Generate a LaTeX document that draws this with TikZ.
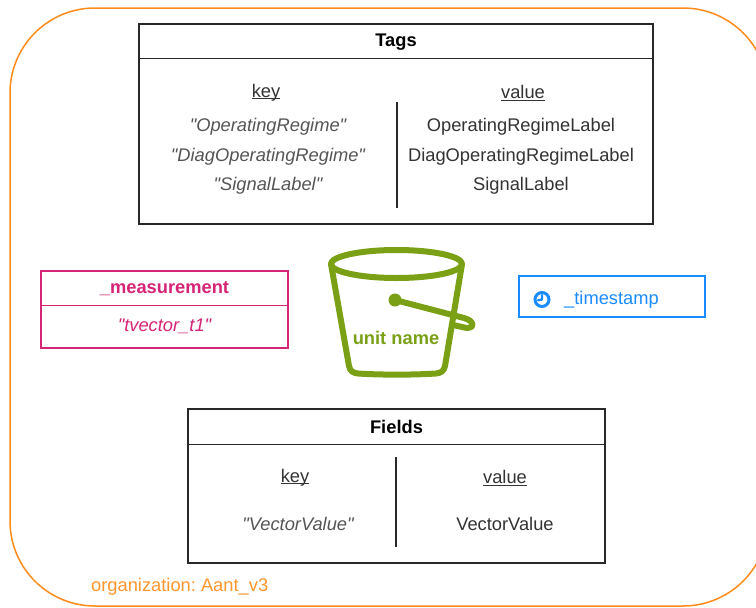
\documentclass[tikz,border=0pt]{standalone}
\usepackage{fontspec}
\setmainfont{Liberation Sans}
\newfontfamily\qfont{Liberation Sans}
\definecolor{orng}{RGB}{255,140,26}
\definecolor{orgtxt}{RGB}{255,150,45}
\definecolor{pinkc}{RGB}{214,36,118}
\definecolor{bluec}{RGB}{26,140,255}
\definecolor{grn}{RGB}{122,161,22}
\definecolor{keyc}{RGB}{85,85,85}
\definecolor{valc}{RGB}{51,51,51}
\definecolor{boxc}{RGB}{40,40,40}
\newcommand\myul[1]{\setbox0\hbox{#1}\rlap{\rule[-1.6pt]{\wd0}{0.9pt}}\box0}
\frenchspacing
\begin{document}
\begin{tikzpicture}[x=1pt,y=-1pt,
  every node/.style={font=\qfont\fontsize{18.3}{22}\selectfont, inner sep=0pt},
  tbox/.style={draw=boxc, line width=1.3pt, inner sep=0pt},
  head/.style={font=\qfont\fontsize{18.3}{22}\selectfont\bfseries, text=black},
  keyt/.style={font=\qfont\fontsize{18.3}{22}\selectfont\itshape, text=keyc},
  valt/.style={text=valc},
  colt/.style={text=valc}]
\clip (0,0) rectangle (756,608);
\fill[white] (0,0) rectangle (756,608);
\draw[orng, line width=1.5pt, rounded corners=85pt] (10,8) rectangle (768,606);

% Tags
\node[tbox, minimum width=514pt, minimum height=200pt] (tags) at (396,124) {};
\draw[boxc, line width=1.3pt] ([yshift=-35pt]tags.north west) -- ([yshift=-35pt]tags.north east);
\coordinate (tdt) at (397,102);
\coordinate (tdb) at (397,208);
\draw[boxc, line width=1.3pt] (tdt) -- (tdb);
\node[head] (tagsh) at (396,42) {Tags};
\node[colt] (tkey) at (266,93) {\myul{key}};
\node[colt] (tval) at (523,93) {\myul{value}};
\node[keyt] (k1) at (268,127) {"OperatingRegime"};
\node[keyt] (k2) at (268,157) {"DiagOperatingRegime"};
\node[keyt] (k3) at (268,186) {"SignalLabel"};
\node[valt] (v1) at (521,127) {OperatingRegimeLabel};
\node[valt] (v2) at (521,157) {DiagOperatingRegimeLabel};
\node[valt] (v3) at (521,186) {SignalLabel};

% Measurement
\node[draw=pinkc, line width=1.3pt, minimum width=247pt, minimum height=77pt] (meas) at (164.5,309.5) {};
\draw[pinkc, line width=1.3pt] ([yshift=-35pt]meas.north west) -- ([yshift=-35pt]meas.north east);
\node[font=\qfont\fontsize{18.3}{22}\selectfont\bfseries, text=pinkc] (meash) at (164.5,289) {\_measurement};
\node[font=\qfont\fontsize{18.3}{22}\selectfont\itshape, text=pinkc] (measv) at (164.5,326) {"tvector\_t1"};

% Bucket icon
\begin{scope}[grn, line width=6pt, line cap=round, line join=round]
  \draw (396.5,264) ellipse [x radius=65.5pt, y radius=14pt];
  \draw (331,264) -- (349,366) .. controls (350,371) and (353,373) .. (358,373.5)
        .. controls (380,375) and (414,375) .. (436,373.5)
        .. controls (441,373) and (444,371) .. (445,366) -- (462,264);
  \draw (395,300) -- (464,318) .. controls (476,321) and (475,331) .. (462,327) -- (453,325);
  \fill (395,300) circle (6.5pt);
\end{scope}
\node[font=\qfont\fontsize{18.3}{22}\selectfont\bfseries, text=grn] (bname) at (396,338) {unit name};

% Timestamp
\node[draw=bluec, line width=1.3pt, minimum width=186pt, minimum height=41pt] (ts) at (612,296.5) {};
\coordinate (clk) at (542,299.5);
\draw[bluec, line width=3pt] (clk) circle (7pt);
\draw[bluec, line width=2.4pt, line cap=round] (clk) -- ++(0,-4.5) (clk) -- ++(-4,0.8);
\node[text=bluec, anchor=west] (tst) at (564,299.5) {\_timestamp};

% Fields
\node[tbox, minimum width=417pt, minimum height=154pt] (fields) at (396.5,486) {};
\draw[boxc, line width=1.3pt] ([yshift=-36pt]fields.north west) -- ([yshift=-36pt]fields.north east);
\coordinate (fdt) at (396,457);
\coordinate (fdb) at (396,547);
\draw[boxc, line width=1.3pt] (fdt) -- (fdb);
\node[head] (fieldsh) at (396.5,427) {Fields};
\node[colt] (fkey) at (295,478) {\myul{key}};
\node[colt] (fval) at (505,478) {\myul{value}};
\node[keyt] (fk1) at (298,524) {"VectorValue"};
\node[valt] (fv1) at (505,524) {VectorValue};

% Organization
\node[text=orgtxt, anchor=west] (org) at (91,587) {organization: Aant\_v3};
\end{tikzpicture}
\end{document}
